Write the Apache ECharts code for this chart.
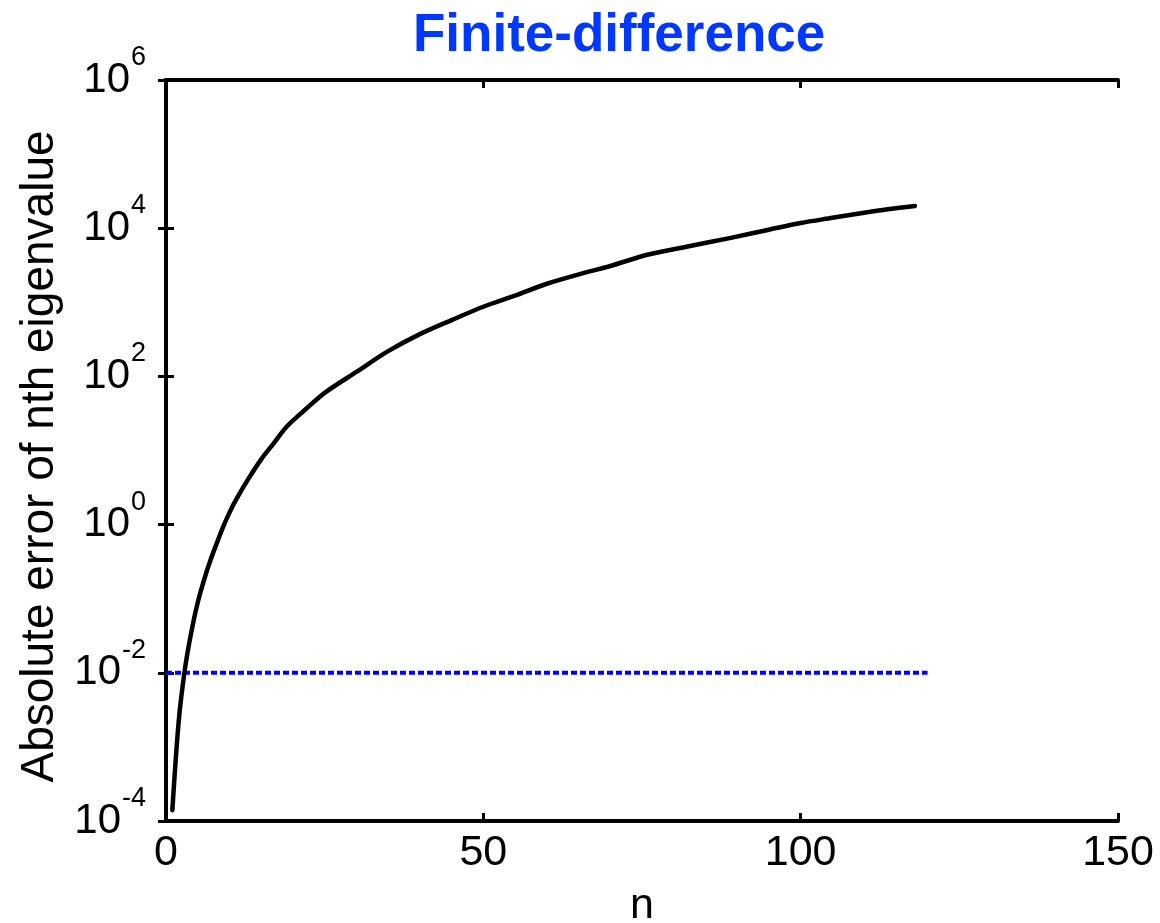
<!DOCTYPE html>
<html>
<head>
<meta charset="utf-8">
<script src="https://cdn.jsdelivr.net/npm/echarts@6/dist/echarts.min.js"></script>
<style>
html, body { margin: 0; padding: 0; background: #fff; }
#chart { width: 1160px; height: 923px; }
</style>
</head>
<body>
<div id="chart"></div>
<script>
// eigenvalue index and absolute error
var nVals = [1, 2, 3, 4, 5, 6, 7, 8, 9, 10, 11, 13, 15, 17, 19, 22, 25, 30, 35, 40, 45, 50, 55, 60, 66, 70, 76, 82, 89, 95, 100, 105, 110, 114, 118];
var errVals = [1.4e-4, 2.2e-3, 1.15e-2, 3.6e-2, 8.9e-2, 0.18, 0.33, 0.56, 0.93, 1.45, 2.14, 4.17, 7.6, 12.6, 20.9, 36, 60, 115, 219, 372, 575, 871, 1230, 1780, 2510, 3090, 4420, 5620, 7410, 9550, 11750, 13800, 16200, 18200, 19950];
// tolerance line
var tolN = [0, 120];
var tolVals = [0.01, 0.01];

var yMin = 1e-4, yMax = 1e6;

var font = 'Liberation Sans, Arial, Helvetica, sans-serif';

function pairs(xs, ys) {
    var out = [];
    for (var i = 0; i < xs.length; i++) out.push([xs[i], ys[i]]);
    return out;
}

function powLabel(v) {
    var e = Math.round(Math.log(v) / Math.LN10);
    return '{b|10}{s|' + e + '}';
}

var frameLine = { show: true, lineStyle: { color: '#000', width: 4 } };
var inTick = { show: true, inside: true, length: 8, lineStyle: { color: '#000', width: 3 } };

var chart = echarts.init(document.getElementById('chart'));
chart.setOption({
    backgroundColor: '#fff',
    animation: false,
    title: {
        text: 'Finite-difference',
        left: 413,
        top: 10,
        padding: 0,
        textStyle: { color: '#0038ff', fontSize: 53, fontWeight: 'bold', fontFamily: font }
    },
    grid: { left: 166, right: 42, top: 80, bottom: 102, outerBoundsMode: 'none' },
    xAxis: [
        {
            type: 'value', min: 0, max: 150, interval: 50,
            name: 'n', nameLocation: 'middle', nameGap: 64,
            nameTextStyle: { fontSize: 43, color: '#000', fontFamily: font },
            axisLine: frameLine, axisTick: inTick,
            axisLabel: { fontSize: 43, color: '#000', margin: 11, fontFamily: font },
            splitLine: { show: false }
        },
        {
            type: 'value', min: 0, max: 150, interval: 50, position: 'top',
            axisLine: frameLine, axisTick: inTick,
            axisLabel: { show: false }, splitLine: { show: false }
        }
    ],
    yAxis: [
        {
            type: 'log', logBase: 10, min: yMin, max: yMax, interval: 2,
            name: 'Absolute error of nth eigenvalue', nameLocation: 'middle', nameGap: 100,
            nameTextStyle: { fontSize: 46, color: '#000', fontFamily: font, padding: [0, 12, 0, 0] },
            axisLine: frameLine, axisTick: inTick,
            axisLabel: {
                margin: 20, formatter: powLabel, fontFamily: font, color: '#000',
                rich: {
                    b: { fontSize: 42, lineHeight: 72, verticalAlign: 'middle', fontFamily: font, color: '#000' },
                    s: { fontSize: 27, lineHeight: 28, padding: [0, 0, 0, 1], verticalAlign: 'top', fontFamily: font, color: '#000' }
                }
            },
            splitLine: { show: false }
        },
        {
            type: 'log', logBase: 10, min: yMin, max: yMax, interval: 2, position: 'right',
            axisLine: frameLine, axisTick: inTick,
            axisLabel: { show: false }, splitLine: { show: false }
        }
    ],
    series: [
        {
            type: 'line',
            data: pairs(tolN, tolVals),
            showSymbol: false,
            lineStyle: { color: '#0000ff', width: 4, type: [6, 3] },
            z: 2
        },
        {
            type: 'line',
            data: pairs(nVals, errVals),
            showSymbol: false,
            smooth: 0.3,
            lineStyle: { color: '#000', width: 4.5, cap: 'round', join: 'round' },
            z: 3
        }
    ]
});
</script>
</body>
</html>
